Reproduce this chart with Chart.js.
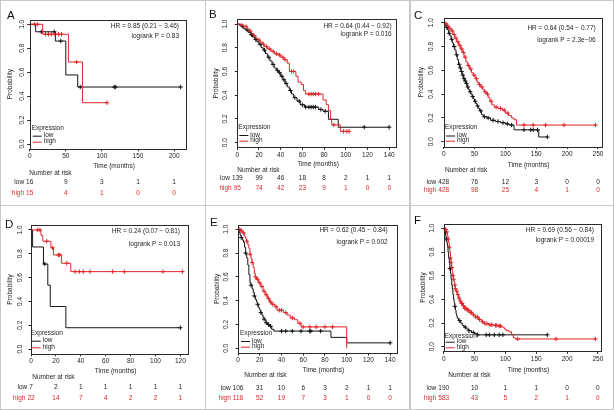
<!DOCTYPE html>
<html>
<head>
<meta charset="utf-8">
<script src="https://cdn.jsdelivr.net/npm/chart.js@4.4.1/dist/chart.umd.min.js"></script>
<style>
body { margin: 0; background: #fff; }
#fig { position: relative; width: 614px; height: 410px; overflow: hidden; background: #fff; }
.cell { position: absolute; box-sizing: border-box; border: 1px solid #c8c8c8; }
canvas { position: absolute; }
</style>
</head>
<body>
<div id="fig"></div>
<script>
// ---- data ----
var yTicks = [0, 0.2, 0.4, 0.6, 0.8, 1.0];

// A
var aTicks = [0, 50, 100, 150, 200];
var aLowT = [0, 8.3, 35.5, 50, 66.5, 209];
var aLowS = [1, 0.9375, 0.86, 0.577, 0.476, 0.476];
var aLowCens = [16, 34, 43, 70, 117, 119, 209];
var aHighT = [0, 18, 53.6, 73, 107];
var aHighS = [1, 0.917, 0.685, 0.345, 0.345];
var aHighCens = [7, 11, 22, 26, 30, 35, 40, 44, 65, 107];
var aRiskLow = [16, 9, 3, 1, 1];
var aRiskHigh = [15, 4, 1, 0, 0];
var aStats = ["HR = 0.85 (0.21 \u2212 3.46)", "logrank P = 0.83"];

// B
var bTicks = [0, 20, 40, 60, 80, 100, 120, 140];
var bLowT = [0, 2, 4, 6, 8, 10, 12, 14, 16, 18, 20, 22, 24, 26, 28, 30, 32, 34, 36, 38, 40, 42, 44, 46, 48, 50, 52, 55, 58, 62, 75, 79, 84, 93, 140];
var bLowS = [1, 0.99, 0.98, 0.96, 0.95, 0.93, 0.91, 0.89, 0.87, 0.85, 0.83, 0.80, 0.78, 0.75, 0.72, 0.69, 0.66, 0.63, 0.61, 0.59, 0.56, 0.53, 0.50, 0.47, 0.44, 0.41, 0.38, 0.35, 0.32, 0.30, 0.28, 0.265, 0.197, 0.13, 0.13];
var bLowCens = [5, 9, 13, 17, 21, 25, 29, 33, 37, 39, 41, 43, 45, 49, 53, 57, 60, 63, 66, 68, 70, 72, 77, 81, 117, 140];
var bHighT = [0, 3, 6, 9, 11, 13, 15, 17, 19, 21, 23, 25, 28, 31, 34, 37, 40, 43, 46, 48, 54, 56, 59, 61, 63, 79, 82, 84, 86, 87, 95, 103];
var bHighS = [1, 0.99, 0.98, 0.96, 0.94, 0.92, 0.90, 0.88, 0.865, 0.85, 0.83, 0.81, 0.79, 0.77, 0.75, 0.74, 0.72, 0.70, 0.67, 0.60, 0.56, 0.51, 0.49, 0.44, 0.41, 0.36, 0.32, 0.27, 0.20, 0.15, 0.095, 0.095];
var bHighCens = [4, 8, 12, 16, 20, 24, 27, 30, 33, 36, 39, 42, 44, 50, 52, 66, 68, 70, 72, 75, 89, 98, 101, 103];
var bRiskLow = [139, 99, 46, 18, 8, 2, 1, 1];
var bRiskHigh = [95, 74, 42, 23, 9, 1, 0, 0];
var bStats = ["HR = 0.64 (0.44 \u2212 0.92)", "logrank P = 0.016"];

// C
var cTicks = [0, 50, 100, 150, 200, 250];
var cLowT = [0, 2, 4, 6, 8, 10, 12, 14, 16, 18, 20, 22, 24, 26, 28, 30, 32, 34, 36, 38, 40, 42, 44, 46, 48, 50, 52, 54, 56, 58, 61, 64, 70, 76, 84, 92, 100, 106, 114, 154, 168];
var cLowS = [1, 0.98, 0.96, 0.94, 0.91, 0.89, 0.86, 0.83, 0.80, 0.77, 0.73, 0.69, 0.65, 0.62, 0.59, 0.56, 0.53, 0.51, 0.49, 0.46, 0.44, 0.42, 0.40, 0.38, 0.36, 0.34, 0.32, 0.30, 0.28, 0.26, 0.23, 0.21, 0.20, 0.18, 0.17, 0.16, 0.15, 0.14, 0.10, 0.04, 0.04];
var cLowCens = [5, 9, 13, 17, 21, 25, 27, 29, 31, 33, 35, 37, 39, 43, 47, 51, 55, 60, 66, 72, 80, 88, 96, 103, 110, 130, 141, 145, 152, 168];
var cHighT = [0, 3, 6, 9, 12, 15, 18, 21, 24, 27, 30, 33, 36, 39, 42, 45, 48, 51, 54, 57, 60, 63, 66, 69, 72, 75, 78, 82, 88, 95, 100, 105, 110, 114, 118, 246];
var cHighS = [1, 0.99, 0.97, 0.95, 0.93, 0.90, 0.87, 0.84, 0.81, 0.78, 0.75, 0.71, 0.67, 0.64, 0.61, 0.58, 0.56, 0.53, 0.50, 0.48, 0.46, 0.44, 0.42, 0.40, 0.37, 0.34, 0.31, 0.29, 0.28, 0.265, 0.24, 0.22, 0.20, 0.185, 0.14, 0.14];
var cHighCens = [4, 7, 10, 14, 17, 20, 23, 26, 29, 32, 35, 40, 44, 49, 53, 58, 62, 67, 71, 77, 85, 92, 98, 104, 130, 145, 165, 195, 246];
var cRiskLow = [428, 76, 12, 3, 0, 0];
var cRiskHigh = [428, 98, 25, 4, 1, 0];
var cStats = ["HR = 0.64 (0.54 \u2212 0.77)", "logrank P = 2.3e\u221206"];

// D
var dTicks = [0, 20, 40, 60, 80, 100, 120];
var dLowT = [0, 1.3, 10, 13.5, 15.5, 28, 120];
var dLowS = [1, 0.857, 0.714, 0.536, 0.357, 0.179, 0.179];
var dLowCens = [11, 120];
var dHighT = [0, 8, 9.5, 16, 18, 24.6, 32, 121.6];
var dHighS = [1, 0.955, 0.905, 0.85, 0.79, 0.72, 0.65, 0.65];
var dHighCens = [5.4, 7.2, 12.6, 17.4, 22, 23, 28.7, 35.4, 38.8, 42, 47.4, 65.6, 75, 106, 121.6];
var dRiskLow = [7, 2, 1, 1, 1, 1, 1];
var dRiskHigh = [22, 14, 7, 4, 2, 2, 1];
var dStats = ["HR = 0.24 (0.07 \u2212 0.81)", "logrank P = 0.013"];

// E
var eTicks = [0, 20, 40, 60, 80, 100, 120, 140];
var eLowT = [0, 1, 2, 3, 4, 5, 6, 7, 8, 9, 10, 11, 12, 13, 14, 15, 16, 17, 18, 19, 20, 21, 22, 23, 24, 25, 26, 27, 29, 31, 33, 85.5, 100, 140];
var eLowS = [1, 0.97, 0.95, 0.93, 0.91, 0.89, 0.85, 0.80, 0.76, 0.70, 0.62, 0.55, 0.53, 0.50, 0.47, 0.44, 0.41, 0.39, 0.37, 0.34, 0.32, 0.30, 0.28, 0.26, 0.245, 0.23, 0.215, 0.20, 0.185, 0.16, 0.145, 0.092, 0.046, 0.046];
var eLowCens = [3, 7, 12, 15, 18, 21, 24, 26, 28, 30, 40, 44, 50, 58, 66, 67, 76, 140];
var eHighT = [0, 2, 4, 6, 7, 8, 9, 10, 11, 12, 13, 14, 15, 16, 17, 19, 21, 23, 25, 27, 29, 31, 34, 36, 42, 45, 48, 52, 55, 58, 100];
var eHighS = [1, 0.99, 0.97, 0.94, 0.92, 0.90, 0.87, 0.84, 0.79, 0.75, 0.72, 0.68, 0.63, 0.60, 0.58, 0.55, 0.52, 0.48, 0.45, 0.42, 0.39, 0.37, 0.35, 0.32, 0.30, 0.28, 0.255, 0.24, 0.21, 0.18, 0];
var eHighCens = [1, 2, 3, 5, 8, 11, 13, 16, 18, 20, 22, 24, 26, 28, 30, 32, 35, 38, 40, 44, 50, 57, 60, 66, 72, 80, 87];
var eRiskLow = [106, 31, 10, 6, 3, 2, 1, 1];
var eRiskHigh = [116, 52, 19, 7, 3, 1, 0, 0];
var eStats = ["HR = 0.62 (0.45 \u2212 0.84)", "logrank P = 0.002"];

// F
var fTicks = [0, 50, 100, 150, 200, 250];
var fLowT = [0, 1, 2, 3, 4, 5, 6, 7, 8, 9, 10, 11, 12, 13, 14, 15, 16, 17, 18, 19, 20, 21, 22, 24, 27, 30, 33, 36, 40, 45, 50, 55, 168];
var fLowS = [1, 0.99, 0.97, 0.94, 0.91, 0.88, 0.85, 0.80, 0.75, 0.71, 0.66, 0.62, 0.57, 0.52, 0.48, 0.44, 0.40, 0.37, 0.34, 0.31, 0.28, 0.26, 0.24, 0.22, 0.20, 0.18, 0.165, 0.15, 0.135, 0.12, 0.11, 0.10, 0.10];
var fLowCens = [4, 10, 18, 26, 35, 41, 48, 55, 69, 74, 82, 90, 96, 168];
var fHighT = [0, 2, 4, 6, 7, 8, 9, 10, 11, 12, 13, 14, 15, 16, 17, 18, 19, 20, 22, 24, 26, 28, 31, 34, 37, 41, 46, 51, 56, 61, 66, 72, 80, 88, 94, 98, 101, 106, 110, 113, 116, 246];
var fHighS = [1, 0.99, 0.97, 0.94, 0.91, 0.88, 0.84, 0.80, 0.75, 0.71, 0.67, 0.63, 0.60, 0.57, 0.545, 0.52, 0.49, 0.47, 0.44, 0.41, 0.385, 0.365, 0.345, 0.325, 0.31, 0.29, 0.27, 0.25, 0.23, 0.21, 0.195, 0.185, 0.18, 0.175, 0.165, 0.15, 0.135, 0.125, 0.10, 0.075, 0.065, 0.065];
var fHighCens = [1, 3, 5, 7, 9, 11, 12, 13, 15, 16, 18, 19, 21, 23, 25, 27, 29, 30, 32, 34, 36, 38, 40, 43, 45, 48, 52, 55, 58, 63, 67, 70, 75, 78, 84, 86, 90, 92, 120, 182, 246];
var fRiskLow = [190, 10, 1, 1, 0, 0];
var fRiskHigh = [583, 43, 5, 2, 1, 0];
var fStats = ["HR = 0.69 (0.56 \u2212 0.84)", "logrank P = 0.00019"];

// ---- page layout (cell coords, px) ----
var RED = '#e1262c', BLK = '#151515', TXT = '#1e1e1e', FONT = '"Liberation Sans", Arial, sans-serif';
var X_AXIS_H = 14;

var panels = [
  { letter: 'A', ox: 0, oy: 0, box: [29.7, 19.5, 185.7, 148.8], xMax: 216, ticks: aTicks,
    lowT: aLowT, lowS: aLowS, lowC: aLowCens, highT: aHighT, highS: aHighS, highC: aHighCens,
    riskLow: aRiskLow, riskHigh: aRiskHigh, stats: aStats,
    letterAt: [7, 18.7], probX: 10, yLabX: 22, hr: [179, 26.7, 36.7], time: [114, 166.7],
    risk: [29.3, 173.3, 182.7, 193.3], leg: [31.7, 128.3, 135.7, 141.7] },
  { letter: 'B', ox: 205, oy: 0, box: [32.3, 19.3, 190.7, 147.4], xMax: 146, ticks: bTicks,
    lowT: bLowT, lowS: bLowS, lowC: bLowCens, highT: bHighT, highS: bHighS, highC: bHighCens,
    riskLow: bRiskLow, riskHigh: bRiskHigh, stats: bStats,
    letterAt: [4, 18.3], probX: 11.7, yLabX: 20.7, hr: [186.7, 26, 34.5], time: [113, 164.5],
    risk: [32.3, 170, 178, 188], leg: [33.3, 127.7, 135, 140.7] },
  { letter: 'C', ox: 409, oy: 0, box: [34.7, 17.9, 192.7, 146.5], xMax: 256, ticks: cTicks,
    lowT: cLowT, lowS: cLowS, lowC: cLowCens, highT: cHighT, highS: cHighS, highC: cHighCens,
    riskLow: cRiskLow, riskHigh: cRiskHigh, stats: cStats,
    letterAt: [5, 19.3], probX: 12.7, yLabX: 22, hr: [186.7, 28.7, 40], time: [119.7, 165],
    risk: [36, 170.7, 182.7, 190.7], leg: [36, 127.3, 135.5, 140.7] },
  { letter: 'D', ox: 0, oy: 205, box: [31, 20.2, 188.3, 148.8], xMax: 126.4, ticks: dTicks,
    lowT: dLowT, lowS: dLowS, lowC: dLowCens, highT: dHighT, highS: dHighS, highC: dHighCens,
    riskLow: dRiskLow, riskHigh: dRiskHigh, stats: dStats,
    letterAt: [5, 23.3], probX: 10, yLabX: 20.7, hr: [180, 26.7, 39.3], time: [115.7, 166],
    risk: [32.3, 172.7, 182, 193.3], leg: [30.7, 128.3, 135.7, 142.3] },
  { letter: 'E', ox: 205, oy: 205, box: [33, 19.5, 191.7, 148.1], xMax: 146, ticks: eTicks,
    lowT: eLowT, lowS: eLowS, lowC: eLowCens, highT: eHighT, highS: eHighS, highC: eHighCens,
    riskLow: eRiskLow, riskHigh: eRiskHigh, stats: eStats,
    letterAt: [5, 21], probX: 12.7, yLabX: 21.7, hr: [182.7, 25, 37.7], time: [118.3, 165],
    risk: [39.3, 170, 183.3, 193.3], leg: [35, 128.3, 136, 141.7] },
  { letter: 'F', ox: 409, oy: 205, box: [34.7, 18.6, 192, 146.4], xMax: 255, ticks: fTicks,
    lowT: fLowT, lowS: fLowS, lowC: fLowCens, highT: fHighT, highS: fHighS, highC: fHighCens,
    riskLow: fRiskLow, riskHigh: fRiskHigh, stats: fStats,
    letterAt: [5, 19.3], probX: 14, yLabX: 23.3, hr: [185, 25, 35], time: [119.3, 165],
    risk: [39.3, 170, 183.3, 193.3], leg: [35.7, 131, 136.7, 142.3] }
];

function stepPts(T, S) {
  return T.map(function (t, i) { return { x: t, y: S[i] }; });
}
function survAt(T, S, t) {
  var v = S[0];
  for (var i = 0; i < T.length; i++) if (T[i] <= t) v = S[i];
  return v;
}
function censPts(C, T, S) {
  return C.map(function (t) { return { x: t, y: survAt(T, S, t) }; });
}

var fig = document.getElementById('fig');

function makePanel(p) {
  var cell = document.createElement('div');
  cell.className = 'cell';
  cell.style.left = p.ox + 'px';
  cell.style.top = p.oy + 'px';
  cell.style.width = (p.ox === 409 ? 205 : 206) + 'px';
  cell.style.height = (p.oy === 0 ? 206 : 205) + 'px';
  fig.appendChild(cell);

  var cv = document.createElement('canvas');
  cv.width = 205; cv.height = 205;
  cv.style.left = p.ox + 'px';
  cv.style.top = p.oy + 'px';
  fig.appendChild(cv);

  var extras = {
    id: 'extras',
    afterDraw: function (chart) {
      var ctx = chart.ctx, ca = chart.chartArea, xs = chart.scales.x, ys = chart.scales.y;
      ctx.save();
      // box
      ctx.strokeStyle = '#2a2a2a';
      ctx.lineWidth = 1;
      ctx.strokeRect(Math.round(ca.left) + 0.5, Math.round(ca.top) + 0.5,
        Math.round(ca.right) - Math.round(ca.left), Math.round(ca.bottom) - Math.round(ca.top));

      ctx.fillStyle = TXT;
      ctx.font = '6.5px ' + FONT;
      ctx.textBaseline = 'middle';
      // y tick labels, rotated like R
      yTicks.forEach(function (v) {
        ctx.save();
        ctx.translate(p.yLabX, ys.getPixelForValue(v));
        ctx.rotate(-Math.PI / 2);
        ctx.textAlign = 'center';
        ctx.fillText(v.toFixed(1), 0, 0);
        ctx.restore();
      });
      ctx.save();
      ctx.translate(p.probX, (ca.top + ca.bottom) / 2);
      ctx.rotate(-Math.PI / 2);
      ctx.textAlign = 'center';
      ctx.fillText('Probability', 0, 0);
      ctx.restore();

      ctx.textAlign = 'center';
      ctx.fillText('Time (months)', p.time[0], p.time[1]);

      ctx.textAlign = 'right';
      ctx.fillText(p.stats[0], p.hr[0], p.hr[1]);
      ctx.fillText(p.stats[1], p.hr[0], p.hr[2]);

      // legend
      var lx = p.leg[0];
      ctx.textAlign = 'left';
      ctx.fillText('Expression', lx, p.leg[1]);
      ctx.fillText('low', lx + 12, p.leg[2]);
      ctx.fillText('high', lx + 12, p.leg[3]);
      ctx.strokeStyle = BLK;
      ctx.beginPath(); ctx.moveTo(lx + 1, p.leg[2] + 0.5); ctx.lineTo(lx + 10, p.leg[2] + 0.5); ctx.stroke();
      ctx.strokeStyle = RED;
      ctx.beginPath(); ctx.moveTo(lx + 1, p.leg[3] + 0.5); ctx.lineTo(lx + 10, p.leg[3] + 0.5); ctx.stroke();

      // number at risk table
      ctx.fillStyle = TXT;
      ctx.fillText('Number at risk', p.risk[0], p.risk[1]);
      ctx.textAlign = 'center';
      p.ticks.forEach(function (t, i) {
        var x = xs.getPixelForValue(t);
        ctx.fillStyle = TXT;
        ctx.fillText(String(p.riskLow[i]), x, p.risk[2]);
        ctx.fillStyle = RED;
        ctx.fillText(String(p.riskHigh[i]), x, p.risk[3]);
      });
      var x0 = xs.getPixelForValue(p.ticks[0]);
      ctx.textAlign = 'right';
      ctx.fillStyle = TXT;
      ctx.fillText('low', x0 - ctx.measureText(String(p.riskLow[0])).width / 2 - 2, p.risk[2]);
      ctx.fillStyle = RED;
      ctx.fillText('high', x0 - ctx.measureText(String(p.riskHigh[0])).width / 2 - 2, p.risk[3]);

      // panel letter
      ctx.fillStyle = '#111';
      ctx.textAlign = 'left';
      ctx.textBaseline = 'alphabetic';
      ctx.font = '11.5px ' + FONT;
      ctx.fillText(p.letter, p.letterAt[0], p.letterAt[1]);
      ctx.restore();
    }
  };

  var axisGrid = { display: true, drawOnChartArea: false, drawTicks: true, tickLength: 2.5, color: '#2a2a2a', lineWidth: 1 };

  new Chart(cv, {
    type: 'line',
    data: {
      datasets: [
        { data: stepPts(p.highT, p.highS), borderColor: RED, borderWidth: 1, stepped: 'before', pointRadius: 0, fill: false },
        { data: stepPts(p.lowT, p.lowS), borderColor: BLK, borderWidth: 1, stepped: 'before', pointRadius: 0, fill: false },
        { data: censPts(p.highC, p.highT, p.highS), showLine: false, pointStyle: 'cross', pointRadius: 2.2,
          pointBorderColor: RED, pointBorderWidth: 1, borderColor: RED },
        { data: censPts(p.lowC, p.lowT, p.lowS), showLine: false, pointStyle: 'cross', pointRadius: 2.2,
          pointBorderColor: BLK, pointBorderWidth: 1, borderColor: BLK }
      ]
    },
    options: {
      responsive: false,
      animation: false,
      events: [],
      layout: { padding: { left: p.box[0], top: p.box[1], right: 205 - p.box[2], bottom: 205 - p.box[3] - X_AXIS_H } },
      plugins: { legend: { display: false }, tooltip: { enabled: false } },
      scales: {
        x: {
          type: 'linear', min: 0, max: p.xMax,
          afterBuildTicks: function (s) { s.ticks = p.ticks.map(function (v) { return { value: v }; }); },
          afterFit: function (s) { s.height = X_AXIS_H; s.paddingLeft = 0; s.paddingRight = 0; },
          grid: axisGrid,
          border: { display: false },
          ticks: { autoSkip: false, maxRotation: 0, padding: 1, color: TXT, font: { family: FONT, size: 6.5 } }
        },
        y: {
          type: 'linear', min: -0.04, max: 1.04,
          afterBuildTicks: function (s) { s.ticks = yTicks.map(function (v) { return { value: v }; }); },
          afterFit: function (s) { s.width = 0; s.paddingTop = 0; s.paddingBottom = 0; },
          grid: axisGrid,
          border: { display: false },
          ticks: { display: false }
        }
      }
    },
    plugins: [extras]
  });
}

panels.forEach(makePanel);
</script>
</body>
</html>
